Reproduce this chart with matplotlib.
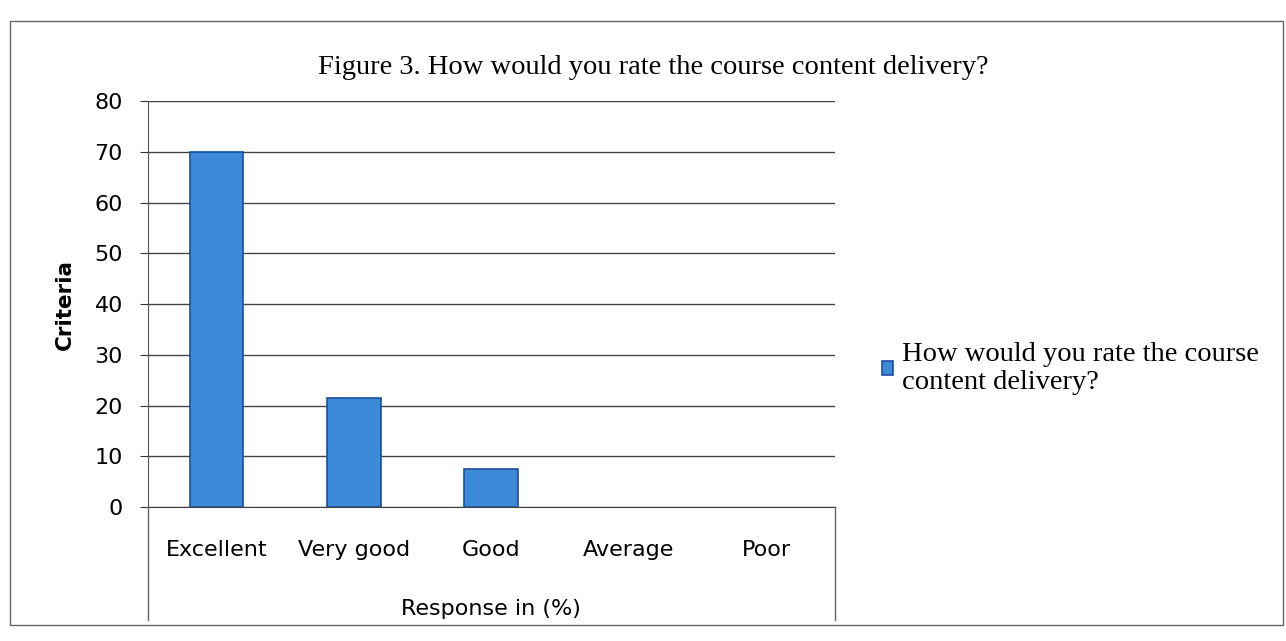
import matplotlib.pyplot as plt
from matplotlib.patches import Rectangle
from matplotlib.lines import Line2D

categories = ['Excellent', 'Very good', 'Good', 'Average', 'Poor']
responses = [70, 21.5, 7.5, 0, 0]
yticks = [0, 10, 20, 30, 40, 50, 60, 70, 80]
series_name = 'How would you rate the course\ncontent delivery?'

fig = plt.figure(figsize=(12.86, 6.41), dpi=100)
ax = fig.add_axes([0.115, 0.209, 0.534, 0.633])

x = range(len(categories))
edges = ['#1c4f9c' if v > 0 else 'none' for v in responses]
ax.bar(x, responses, width=0.39, color='#3d8ad8', edgecolor=edges,
       linewidth=1.2, zorder=3, label=series_name)

ax.set_xlim(-0.5, 4.5)
ax.set_ylim(0, 80)
ax.set_yticks(yticks)
ax.set_xticks(list(x))
ax.set_xticklabels(categories)
ax.tick_params(axis='x', length=0, pad=24, labelsize=16)
ax.tick_params(axis='y', length=6, direction='out', labelsize=16, pad=12,
               color='#333333')
ax.grid(axis='y', color='#444444', linewidth=1.0, zorder=0)
for s in ['top', 'right']:
    ax.spines[s].set_visible(False)
ax.spines['left'].set_color('#555555')
ax.spines['bottom'].set_color('#444444')

ax.set_ylabel('Criteria', fontsize=15.5, fontweight='bold', labelpad=14)
ax.set_xlabel('Response in (%)', fontsize=16, labelpad=28)

fig.text(0.508, 0.895, 'Figure 3. How would you rate the course content delivery?',
         ha='center', va='center', fontsize=20.5, family='Liberation Serif')

leg = fig.legend(loc='center left', bbox_to_anchor=(0.666, 0.425), frameon=False,
                 prop={'family': 'Liberation Serif', 'size': 20.5},
                 handlelength=0.4, handleheight=0.4, handletextpad=0.3,
                 labelspacing=0.2)

# chart border and table rules of the scanned page
fig.add_artist(Rectangle((0.008, 0.025), 0.99, 0.943, transform=fig.transFigure,
                         fill=False, edgecolor='#666666', linewidth=1.0))
fig.add_artist(Line2D([0.115, 0.115], [0.033, 0.209], transform=fig.transFigure,
                      color='#666666', linewidth=1.0))
fig.add_artist(Line2D([0.649, 0.649], [0.033, 0.209], transform=fig.transFigure,
                      color='#666666', linewidth=1.0))

fig.savefig('out.png', dpi=100)
